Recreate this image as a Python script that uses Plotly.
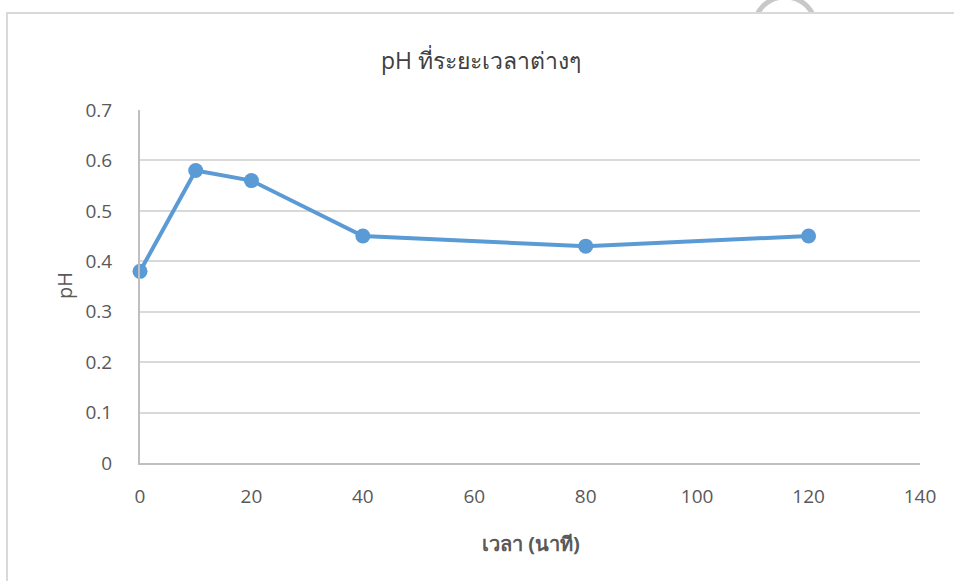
import plotly.graph_objects as go

# Sampling times (minutes) and measured pH
time_min = [0, 10, 20, 40, 80, 120]
ph_values = [0.38, 0.58, 0.56, 0.45, 0.43, 0.45]

x_ticks = [0, 20, 40, 60, 80, 100, 120, 140]
y_ticks = [0, 0.1, 0.2, 0.3, 0.4, 0.5, 0.6, 0.7]

W, H = 954, 581
L, R, T, B = 140, 34, 110, 118
PW, PH = W - L - R, H - T - B


def px(x):
    return (x - L) / PW


def py(y):
    return (H - B - y) / PH


FONT = "Open Sans, Noto Sans, sans-serif"
GREY_TXT = "#595959"
BLUE = "#5B9BD5"

fig = go.Figure()
fig.add_trace(go.Scatter(
    x=time_min, y=ph_values, mode="lines+markers",
    line=dict(color=BLUE, width=4),
    marker=dict(color=BLUE, size=15),
    cliponaxis=False,
    showlegend=False, hoverinfo="x+y",
))

fig.update_layout(
    width=W, height=H,
    margin=dict(l=L, r=R, t=T, b=B),
    paper_bgcolor="white", plot_bgcolor="rgba(0,0,0,0)",
    font=dict(family=FONT, color=GREY_TXT, size=18),
    xaxis=dict(
        range=[0, 140], tickvals=x_ticks, showgrid=False, zeroline=False,
        showline=True, linecolor="#bfbfbf", linewidth=2,
        ticks="outside", ticklen=15, tickcolor="rgba(0,0,0,0)",
        tickfont=dict(size=19, color=GREY_TXT),
    ),
    yaxis=dict(
        range=[0, 0.7], tickvals=y_ticks, ticktext=[f"{v:g}" for v in y_ticks],
        showgrid=True, gridcolor="#d9d9d9", gridwidth=1.5, zeroline=False,
        showline=True, linecolor="#bfbfbf", linewidth=2,
        ticks="outside", ticklen=22, tickcolor="rgba(0,0,0,0)",
        tickfont=dict(size=19, color=GREY_TXT),
    ),
    annotations=[
        dict(text="pH ที่ระยะเวลาต่างๆ", xref="paper", yref="paper",
             x=px(481), y=py(60), xanchor="center", yanchor="middle",
             showarrow=False, font=dict(size=23, color="#404040", family=FONT)),
        dict(text="<b>เวลา (นาที)</b>", xref="paper", yref="paper",
             x=px(531), y=py(543), xanchor="center", yanchor="middle",
             showarrow=False, font=dict(size=20, color=GREY_TXT, family=FONT)),
        dict(text="pH", xref="paper", yref="paper", textangle=-90,
             x=px(64), y=py(286), xanchor="center", yanchor="middle",
             showarrow=False, font=dict(size=20, color=GREY_TXT, family=FONT)),
    ],
    shapes=[
        # ring peeking above the frame
        dict(type="circle", xref="paper", yref="paper", layer="below",
             x0=px(754), x1=px(816), y0=py(-3), y1=py(59),
             line=dict(color="#c8c8c8", width=5)),
        dict(type="rect", xref="paper", yref="paper", layer="below",
             x0=px(8), x1=px(W + 5), y0=py(14), y1=py(H + 5),
             fillcolor="white", line=dict(width=0)),
        # chart frame
        dict(type="line", xref="paper", yref="paper", layer="below",
             x0=px(7), x1=px(7), y0=py(13), y1=py(H + 5),
             line=dict(color="#d9d9d9", width=2)),
        dict(type="line", xref="paper", yref="paper", layer="below",
             x0=px(6), x1=px(W + 5), y0=py(13), y1=py(13),
             line=dict(color="#d9d9d9", width=2)),
    ],
)

fig.write_html("out.html")
